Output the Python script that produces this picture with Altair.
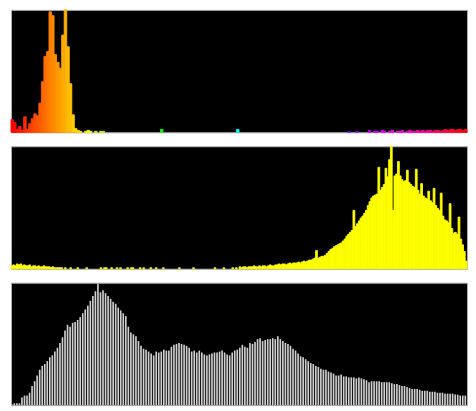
import altair as alt
import pandas as pd
import colorsys

# Hue histogram (180 bins, OpenCV-style hue 0..179)
hue_counts = (
    [13, 10, 3, 6, 2, 16, 3, 9, 14, 19, 17, 30, 52, 78, 83, 124, 120, 80, 72, 66,
     100, 128, 88, 50, 18, 4]
    + [2, 1, 0, 1, 2, 1, 0, 1, 0, 1, 1, 0, 0, 0, 0, 0, 0, 0, 0, 0]
    + [0] * 13 + [3] + [0] * 29 + [3] + [0] * 43
    + [1, 0, 0, 1, 0, 0, 0, 0, 2, 0, 1]
    + [1, 0, 2, 1, 0, 1, 2, 0, 1, 1, 2, 0, 1, 2, 1, 1, 2, 1, 2, 1,
       2, 2, 1, 2, 2, 1, 2, 3, 2, 3, 3, 2, 3, 3, 2, 3]
)

# Saturation histogram (256 bins)
sat_counts = (
    [3, 4, 3, 5, 4, 5, 3, 4, 3, 3, 4, 2, 3, 3, 2, 3, 2, 2, 3, 2, 2, 2, 1, 2, 1, 1, 1, 1]
    + [1, 0, 1, 0, 0, 1, 0, 0, 0, 1, 0, 0, 0, 0, 1, 0, 0, 0, 0, 0, 0, 0]
    + [1, 0, 1, 1, 0, 0, 1, 0, 0, 1, 0, 1, 0, 0, 0, 1, 0, 1, 1, 0,
       0, 0, 1, 0, 1, 0, 0, 0, 1, 0, 0, 1, 0, 0, 0, 1, 0, 0, 0, 0]
    + [0, 0, 0, 0, 1, 0, 0, 0, 0, 0, 0, 0, 1, 0, 0, 0, 0, 0, 0, 0,
       0, 0, 0, 0, 1, 0, 0, 0, 0, 1, 0, 0, 0, 0, 1, 0, 1, 0]
    + [2, 1, 2, 2, 1, 2, 2, 2, 3, 2, 2, 3, 2, 3, 3, 2, 3, 4, 3, 3]
    + [4, 4, 5, 4, 5, 5, 4, 5, 6, 5, 6, 6, 6, 7, 6, 7, 8, 7]
    + [8, 9, 9, 10, 11, 19, 11, 12, 13, 13, 14, 16, 18, 20, 21, 23, 24, 25, 26, 27,
       29, 31, 34, 36, 38, 40]
    + [61, 44, 47, 50, 53, 55, 58, 61, 66, 70, 74, 76, 77, 78, 106, 82, 85, 88, 105, 96,
       114, 128, 61]
    + [97, 99, 112, 97, 93, 91, 92, 103, 90, 88, 86, 85, 104, 82, 78, 89, 76, 74, 73, 81,
       71, 69, 84, 66, 63, 61, 79, 55, 51, 50, 48, 68, 42, 37, 38, 36, 54, 31, 25, 18, 8]
)

# Value histogram (180 bins)
val_counts = [
    1, 2, 2, 2, 8, 10, 10, 13, 20, 25,
    31, 37, 41, 43, 46, 50, 52, 56, 60, 65,
    71, 78, 84, 82, 86, 87, 89, 92, 96, 100,
    104, 109, 114, 119, 127, 118, 120, 117, 114, 111,
    108, 106, 102, 99, 96, 93, 82, 76, 74, 72,
    67, 62, 59, 58, 56, 54, 52, 56, 55, 56,
    58, 57, 57, 61, 63, 64, 65, 64, 63, 62,
    60, 56, 57, 55, 57, 55, 53, 52, 53, 54,
    55, 55, 56, 57, 55, 53, 52, 55, 57, 58,
    60, 63, 61, 60, 65, 64, 66, 69, 70, 67,
    68, 69, 69, 70, 69, 72, 69, 67, 65, 64,
    62, 59, 57, 54, 51, 50, 48, 46, 44, 43,
    41, 40, 38, 37, 37, 35, 34, 33, 31, 31,
    32, 30, 30, 29, 29, 29, 28, 29, 28, 27,
    26, 24, 25, 25, 25, 25, 24, 24, 24, 24,
    23, 22, 22, 21, 20, 20, 19, 18, 17, 17,
    17, 16, 15, 15, 15, 14, 14, 14, 13, 13,
    13, 12, 12, 12, 12, 11, 11, 10, 10, 10,
]


def hue_hex(b, n):
    r, g, bl = colorsys.hsv_to_rgb(b / n, 1.0, 1.0)
    return "#%02x%02x%02x" % (round(r * 255), round(g * 255), round(bl * 255))


hue_df = pd.DataFrame({"bin": list(range(len(hue_counts))), "count": hue_counts})
hue_df["end"] = hue_df["bin"] + 1
hue_df["color"] = [hue_hex(b, 180) for b in hue_df["bin"]]
hue_df = hue_df[hue_df["count"] > 0]

sat_df = pd.DataFrame({"bin": list(range(len(sat_counts))), "count": sat_counts})
sat_df["end"] = sat_df["bin"] + 1
sat_df = sat_df[sat_df["count"] > 0]

val_df = pd.DataFrame({"bin": list(range(len(val_counts))), "count": val_counts})
val_df["end"] = val_df["bin"] + 0.65

W = 458
H = 123


def panel(df, n, ymax, color_enc, stroke_w):
    enc = dict(
        x=alt.X("bin:Q", scale=alt.Scale(domain=[0, n], nice=False, zero=False), axis=None),
        x2="end:Q",
        y=alt.Y("count:Q", scale=alt.Scale(domain=[0, ymax], nice=False, clamp=True), axis=None),
        y2=alt.datum(0),
        color=color_enc,
    )
    if stroke_w > 0:
        enc["stroke"] = color_enc
    return (
        alt.Chart(df)
        .mark_rect(strokeWidth=stroke_w)
        .encode(**enc)
        .properties(width=W, height=H)
    )


p1 = panel(hue_df, 180, 126, alt.Color("color:N", scale=None, legend=None), 0.9)
p2 = panel(sat_df, 256, 128, alt.value("#ffff00"), 0.9)
p3 = panel(val_df, 180, 128, alt.value("#d0d0d0"), 0)

chart = (
    alt.vconcat(p1, p2, p3, spacing=12)
    .properties(padding={"left": 2, "top": 0, "right": 0, "bottom": 0}, background="white")
    .configure_view(fill="black", stroke="#b0b0b0", strokeWidth=1)
)

chart.save("out.html", embed_options={"renderer": "svg", "actions": False})
